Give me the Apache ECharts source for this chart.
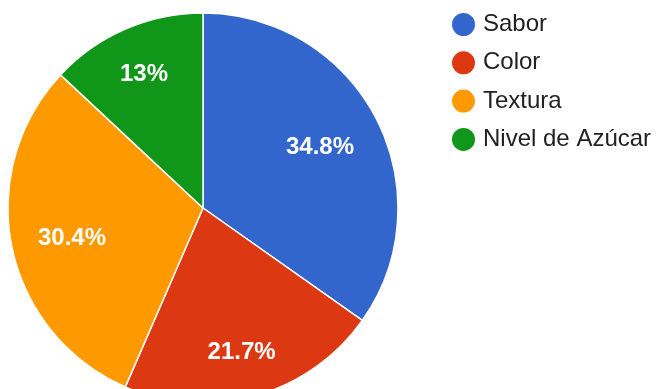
<!DOCTYPE html>
<html>
<head>
<meta charset="utf-8">
<script src="https://cdn.jsdelivr.net/npm/echarts@6/dist/echarts.min.js"></script>
<style>
  html, body { margin: 0; padding: 0; background: #fff; }
  #chart { width: 662px; height: 389px; }
</style>
</head>
<body>
<div id="chart"></div>
<script>
// Survey answers: which attribute matters most
const categories = ['Sabor', 'Color', 'Textura', 'Nivel de Azúcar'];
const counts = [8, 5, 7, 3];
const colors = ['#3366cc', '#dc3912', '#ff9900', '#109618'];

// small per-slice nudges so each percentage sits comfortably inside its wedge
const labelNudge = [[-10, 5], [0, 7], [9, 1], [-2, -2]];

const total = counts.reduce((a, b) => a + b, 0);

function pctLabel(p) {
  // percentage rounded to one decimal, trailing .0 dropped
  const v = Math.round(p.value / total * 1000) / 10;
  return String(v) + '%';
}

const chart = echarts.init(document.getElementById('chart'), null, { renderer: 'canvas' });
chart.setOption({
  animation: false,
  color: colors,
  legend: {
    orient: 'vertical',
    left: 445,
    top: 6,
    icon: 'circle',
    itemWidth: 25,
    itemHeight: 25,
    itemGap: 11.3,
    textStyle: { fontFamily: 'Liberation Sans, Arial, sans-serif', fontSize: 24, color: '#222', padding: [0, 0, 0, 2] },
    data: categories
  },
  series: [
    {
      type: 'pie',
      center: [203, 208],
      radius: [0, 195],
      startAngle: 90,
      clockwise: true,
      silent: true,
      label: { show: false },
      labelLine: { show: false },
      itemStyle: { borderColor: '#fff', borderWidth: 1.5 },
      data: categories.map((name, i) => ({ name, value: counts[i] }))
    },
    {
      // transparent ring carrying the percentage labels
      type: 'pie',
      center: [203, 208],
      radius: [85, 195],
      startAngle: 90,
      clockwise: true,
      silent: true,
      legendHoverLink: false,
      itemStyle: { color: 'transparent', borderWidth: 0 },
      label: {
        show: true,
        position: 'inside',
        formatter: pctLabel,
        color: '#fff',
        fontFamily: 'Liberation Sans, Arial, sans-serif',
        fontSize: 24,
        fontWeight: 'bold'
      },
      labelLine: { show: false },
      data: categories.map((name, i) => ({
        name: name + ' ',
        value: counts[i],
        label: { offset: labelNudge[i] }
      }))
    }
  ]
});
</script>
</body>
</html>
